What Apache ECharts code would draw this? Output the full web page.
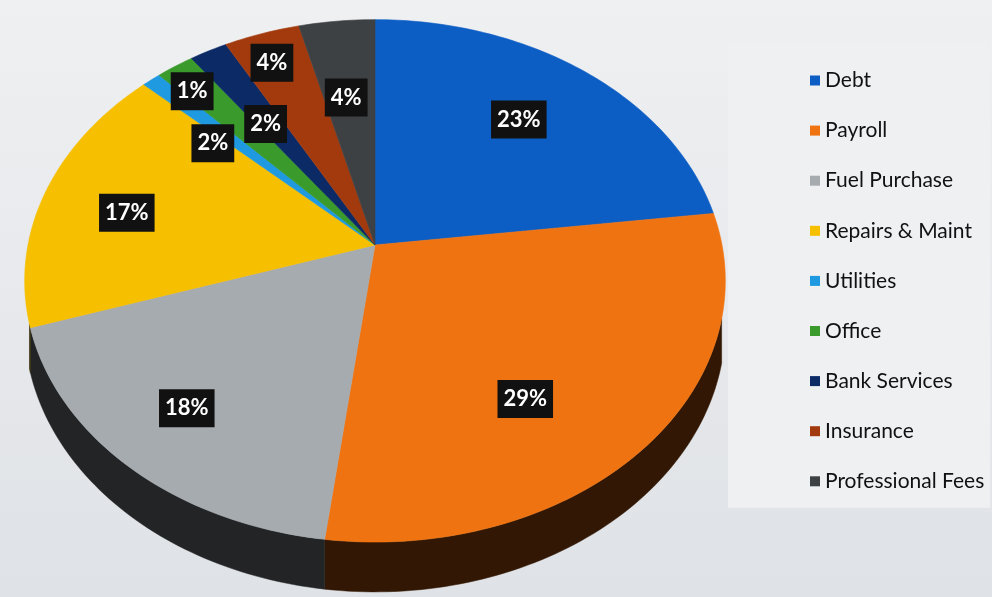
<!DOCTYPE html>
<html>
<head>
<meta charset="utf-8">
<script src="https://cdn.jsdelivr.net/npm/echarts@6/dist/echarts.min.js"></script>
<style>
  html, body { margin: 0; padding: 0; background: #e9ebee; }
  #chart { width: 992px; height: 597px; }
</style>
</head>
<body>
<div id="chart"></div>
<script>
// data
const categories = ['Debt', 'Payroll', 'Fuel Purchase', 'Repairs & Maint', 'Utilities', 'Office', 'Bank Services', 'Insurance', 'Professional Fees'];
const shares = [23, 29, 18, 17, 1, 2, 2, 4, 4];
const colors = ['#0d5ec4', '#f07311', '#a6abb0', '#f6bf00', '#1f9ae0', '#3b9a2c', '#0b2a66', '#a23a0e', '#3e4144'];

// label nudges (px) so the boxes sit where the original placed them
const labelNudge = [[-6, 0], [-34, 18], [-21, 14], [-16, 6], [-22, -35], [-18, 27], [11, 19], [-21, -29], [-1, 15]];

// tilted disc seen in perspective
const cx = 375, cy = 245, R = 347;
const tiltSin = 0.7386, tiltCos = 0.674, camDist = 1704, depth = 43;
// part of the rim wall that faces the viewer (radians)
const wallFrom = 0.28, wallTo = Math.PI - 0.3;

const total = shares.reduce((a, b) => a + b, 0);
const startAngle = [];
let acc = 0;
shares.forEach(v => {
  startAngle.push(-Math.PI / 2 + acc / total * Math.PI * 2);
  acc += v;
});

function project(theta, frac, drop) {
  const X = R * frac * Math.cos(theta);
  const Y = R * frac * Math.sin(theta);
  const s = camDist / (camDist - Y * tiltCos);
  return [cx + X * s, cy + (Y * tiltSin + (drop || 0)) * s];
}

function shade(hex, k) {
  const n = parseInt(hex.slice(1), 16);
  const r = Math.round(((n >> 16) & 255) * k);
  const g = Math.round(((n >> 8) & 255) * k);
  const b = Math.round((n & 255) * k);
  return 'rgb(' + r + ',' + g + ',' + b + ')';
}

function arcPoints(a0, a1, drop) {
  const steps = Math.max(2, Math.ceil((a1 - a0) / 0.02));
  const pts = [];
  for (let k = 0; k <= steps; k++) {
    pts.push(project(a0 + (a1 - a0) * k / steps, 1, drop));
  }
  return pts;
}

function renderSlice(i, api) {
  const a0 = startAngle[i];
  const a1 = a0 + api.value(0) / total * Math.PI * 2;
  const children = [];

  // outer wall, only the front part faces us
  const lo = Math.max(a0, wallFrom), hi = Math.min(a1, wallTo);
  if (hi > lo) {
    const top = arcPoints(lo, hi, 0);
    const bottom = arcPoints(lo, hi, depth).reverse();
    const wall = shade(colors[i], 0.21);
    children.push({
      type: 'polygon',
      z2: 1,
      shape: { points: top.concat(bottom) },
      style: { fill: wall, stroke: wall, lineWidth: 0.5 }
    });
  }

  // top face
  children.push({
    type: 'polygon',
    z2: 5,
    shape: { points: [project(0, 0)].concat(arcPoints(a0, a1, 0)) },
    style: { fill: colors[i], stroke: colors[i], lineWidth: 0.6 }
  });

  // percentage label
  const mid = (a0 + a1) / 2;
  const p = project(mid, 0.7, 0);
  children.push({
    type: 'text',
    z2: 10,
    x: p[0] + labelNudge[i][0],
    y: p[1] + labelNudge[i][1],
    style: {
      text: Math.round(api.value(0) / total * 100) + '%',
      fill: '#ffffff',
      font: 'bold 22px Lato, "Open Sans", sans-serif',
      align: 'center',
      verticalAlign: 'middle',
      backgroundColor: '#111111',
      padding: [8, 6, 8, 6]
    }
  });

  return { type: 'group', children: children };
}

const chart = echarts.init(document.getElementById('chart'));

const series = categories.map((name, i) => ({
  type: 'custom',
  name: name,
  coordinateSystem: 'none',
  silent: true,
  itemStyle: { color: colors[i] },
  data: [[shares[i]]],
  renderItem: (params, api) => renderSlice(i, api)
}));

chart.setOption({
  animation: false,
  graphic: [{
    type: 'rect',
    z: -10,
    shape: { x: 0, y: 0, width: 992, height: 597 },
    style: {
      fill: new echarts.graphic.LinearGradient(0, 0, 0, 1, [
        { offset: 0, color: '#eff0f2' },
        { offset: 1, color: '#dfe2e6' }
      ])
    },
    silent: true
  }],
  legend: {
    data: categories,
    orient: 'vertical',
    left: 728,
    top: 42,
    padding: [28, 6, 16, 82],
    backgroundColor: '#eff0f2',
    icon: 'rect',
    itemWidth: 10,
    itemHeight: 10,
    itemGap: 29.1,
    textStyle: {
      fontFamily: 'Lato, "Open Sans", sans-serif',
      fontSize: 21,
      lineHeight: 20,
      color: '#111111'
    }
  },
  series: series
});
</script>
</body>
</html>
